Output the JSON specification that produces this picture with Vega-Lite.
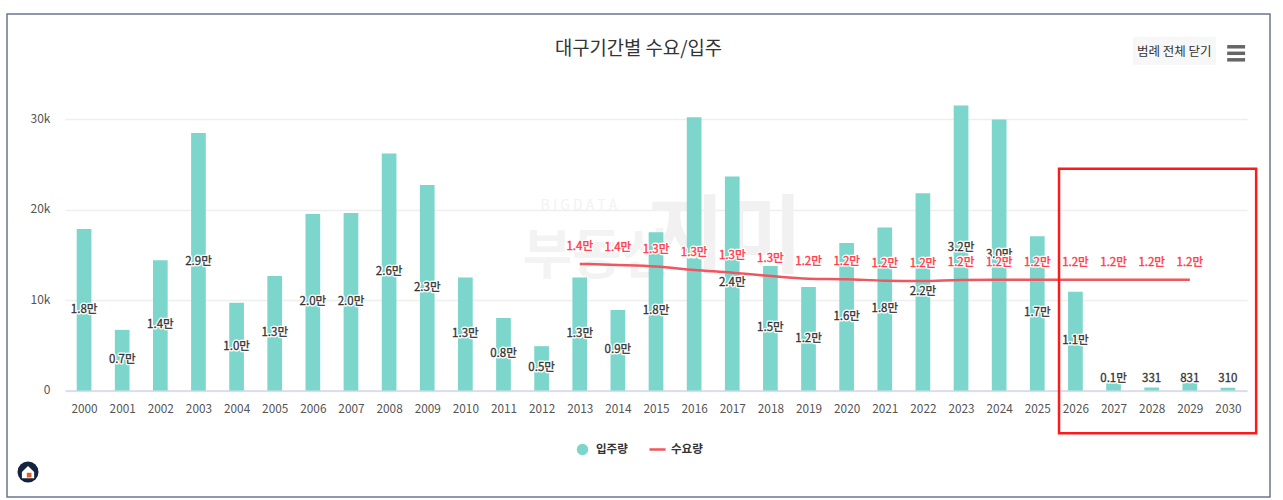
{
  "$schema": "https://vega.github.io/schema/vega-lite/v6.json",
  "autosize": {"type": "none"},
  "padding": {"left": 7, "top": 14, "right": 13, "bottom": 3},
  "width": 1263,
  "height": 483,
  "background": "white",
  "view": {"stroke": "#6b7590", "strokeWidth": 1.5, "fill": "white"},
  "title": {
    "text": "대구기간별 수요/입주",
    "font": "Noto Sans CJK KR",
    "fontSize": 18.8,
    "fontWeight": "normal",
    "color": "#333333",
    "anchor": "middle",
    "offset": -45
  },
  "config": {
    "font": "Noto Sans CJK KR",
    "axis": {"labelFont": "Noto Sans CJK KR"},
    "legend": {"labelFont": "Noto Sans CJK KR"}
  },
  "layer": [
    {
      "data": {"values": [{}]},
      "mark": {"type": "text", "text": "B I G D A T A", "fontSize": 14, "baseline": "middle", "color": "#f2f2f2"},
      "encoding": {"x": {"datum": 2012.98}, "y": {"datum": 20400}}
    },
    {
      "data": {"values": [{}]},
      "mark": {"type": "text", "text": "부동산", "fontSize": 54, "fontWeight": "bold", "baseline": "middle", "color": "#f3f3f3"},
      "encoding": {"x": {"datum": 2013.45}, "y": {"datum": 14650}}
    },
    {
      "data": {"values": [{}]},
      "mark": {"type": "text", "text": "지미", "fontSize": 85, "fontWeight": "bold", "baseline": "middle", "color": "#f1f1f1"},
      "encoding": {"x": {"datum": 2016.8}, "y": {"datum": 16640}}
    },
    {
      "data": {
        "values": [
          {"year": 2000, "supply": 17850, "supply_label": "1.8만"},
          {"year": 2001, "supply": 6700, "supply_label": "0.7만"},
          {"year": 2002, "supply": 14400, "supply_label": "1.4만"},
          {"year": 2003, "supply": 28450, "supply_label": "2.9만"},
          {"year": 2004, "supply": 9700, "supply_label": "1.0만"},
          {"year": 2005, "supply": 12650, "supply_label": "1.3만"},
          {"year": 2006, "supply": 19500, "supply_label": "2.0만"},
          {"year": 2007, "supply": 19600, "supply_label": "2.0만"},
          {"year": 2008, "supply": 26200, "supply_label": "2.6만"},
          {"year": 2009, "supply": 22700, "supply_label": "2.3만"},
          {"year": 2010, "supply": 12500, "supply_label": "1.3만"},
          {"year": 2011, "supply": 8000, "supply_label": "0.8만"},
          {"year": 2012, "supply": 4900, "supply_label": "0.5만"},
          {"year": 2013, "supply": 12500, "supply_label": "1.3만", "demand": 13990, "demand_label": "1.4만"},
          {"year": 2014, "supply": 8900, "supply_label": "0.9만", "demand": 13870, "demand_label": "1.4만"},
          {"year": 2015, "supply": 17500, "supply_label": "1.8만", "demand": 13700, "demand_label": "1.3만"},
          {"year": 2016, "supply": 30200, "supply_label": "3.0만", "demand": 13320, "demand_label": "1.3만"},
          {"year": 2017, "supply": 23650, "supply_label": "2.4만", "demand": 13020, "demand_label": "1.3만"},
          {"year": 2018, "supply": 13750, "supply_label": "1.5만", "demand": 12650, "demand_label": "1.3만"},
          {"year": 2019, "supply": 11450, "supply_label": "1.2만", "demand": 12360, "demand_label": "1.2만"},
          {"year": 2020, "supply": 16300, "supply_label": "1.6만", "demand": 12300, "demand_label": "1.2만"},
          {"year": 2021, "supply": 18000, "supply_label": "1.8만", "demand": 12140, "demand_label": "1.2만"},
          {"year": 2022, "supply": 21800, "supply_label": "2.2만", "demand": 12100, "demand_label": "1.2만"},
          {"year": 2023, "supply": 31500, "supply_label": "3.2만", "demand": 12220, "demand_label": "1.2만"},
          {"year": 2024, "supply": 29950, "supply_label": "3.0만", "demand": 12240, "demand_label": "1.2만"},
          {"year": 2025, "supply": 17050, "supply_label": "1.7만", "demand": 12240, "demand_label": "1.2만"},
          {"year": 2026, "supply": 10900, "supply_label": "1.1만", "demand": 12240, "demand_label": "1.2만"},
          {"year": 2027, "supply": 800, "supply_label": "0.1만", "demand": 12240, "demand_label": "1.2만"},
          {"year": 2028, "supply": 331, "supply_label": "331", "demand": 12240, "demand_label": "1.2만"},
          {"year": 2029, "supply": 831, "supply_label": "831", "demand": 12240, "demand_label": "1.2만"},
          {"year": 2030, "supply": 310, "supply_label": "310"}
        ]
      },
      "transform": [{"calculate": "max(datum.supply / 2, 1250)", "as": "supply_mid"}],
      "encoding": {
        "x": {
          "field": "year",
          "type": "quantitative",
          "title": null,
          "scale": {"domain": [1999.5, 2030.5], "range": [58, 1240], "nice": false, "zero": false, "padding": 0},
          "axis": {
            "values": [2000, 2001, 2002, 2003, 2004, 2005, 2006, 2007, 2008, 2009, 2010, 2011, 2012, 2013, 2014, 2015, 2016, 2017, 2018, 2019, 2020, 2021, 2022, 2023, 2024, 2025, 2026, 2027, 2028, 2029, 2030],
            "format": "d",
            "offset": -106.5,
            "grid": false,
            "ticks": false,
            "domainColor": "#d5d9e8",
            "domainWidth": 1.5,
            "labelColor": "#555555",
            "labelFontSize": 11.8,
            "labelPadding": 13,
            "labelOverlap": false,
            "labelFlush": false
          }
        },
        "y": {
          "type": "quantitative",
          "title": null,
          "scale": {"domain": [0, 30000], "range": [376.5, 105], "nice": false},
          "axis": {
            "values": [0, 10000, 20000, 30000],
            "format": "~s",
            "labelExpr": "datum.value == 0 ? '0' : datum.label",
            "offset": -43,
            "grid": true,
            "gridColor": "#eeeeee",
            "gridWidth": 1.5,
            "domain": false,
            "ticks": false,
            "labelColor": "#555555",
            "labelFontSize": 12,
            "labelPadding": 0,
            "labelOffset": -1
          }
        }
      },
      "layer": [
        {
          "mark": {"type": "bar", "width": 14.7},
          "encoding": {
            "y": {"field": "supply"},
            "fill": {
              "datum": "입주량",
              "scale": {"domain": ["입주량"], "range": ["#7dd6cc"]},
              "legend": {
                "title": null,
                "orient": "none",
                "legendX": 569,
                "legendY": 429,
                "symbolType": "circle",
                "symbolSize": 130,
                "labelOffset": 7,
                "labelFontSize": 11.5,
                "labelFontWeight": "bold",
                "labelColor": "#333333"
              }
            }
          }
        },
        {
          "transform": [{"filter": "datum.demand != null"}],
          "mark": {"type": "line", "interpolate": "monotone", "strokeWidth": 2.5},
          "encoding": {
            "y": {"field": "demand"},
            "stroke": {
              "datum": "수요량",
              "scale": {"domain": ["수요량"], "range": ["#f0565f"]},
              "legend": {
                "title": null,
                "orient": "none",
                "legendX": 641,
                "legendY": 426,
                "symbolType": "stroke",
                "symbolSize": 260,
                "symbolStrokeWidth": 2.5,
                "labelFontSize": 11.5,
                "labelFontWeight": "bold",
                "labelColor": "#333333"
              }
            }
          }
        },
        {
          "mark": {"type": "text", "fontSize": 11.5, "stroke": "white", "strokeWidth": 3, "strokeJoin": "round", "color": "white"},
          "encoding": {"y": {"field": "supply_mid"}, "text": {"field": "supply_label"}}
        },
        {
          "mark": {"type": "text", "fontSize": 11.5, "color": "#333333", "stroke": "#333333", "strokeWidth": 0.3},
          "encoding": {"y": {"field": "supply_mid"}, "text": {"field": "supply_label"}}
        },
        {
          "transform": [{"filter": "datum.demand != null"}],
          "mark": {"type": "text", "fontSize": 11.5, "dy": -17, "stroke": "white", "strokeWidth": 3, "strokeJoin": "round", "color": "white"},
          "encoding": {"y": {"field": "demand"}, "text": {"field": "demand_label"}}
        },
        {
          "transform": [{"filter": "datum.demand != null"}],
          "mark": {"type": "text", "fontSize": 11.5, "dy": -17, "color": "#ff3b4a", "stroke": "#ff3b4a", "strokeWidth": 0.4},
          "encoding": {"y": {"field": "demand"}, "text": {"field": "demand_label"}}
        }
      ]
    },
    {
      "data": {"values": [{}]},
      "mark": {"type": "rect", "fill": null, "stroke": "#ff1a1a", "strokeWidth": 2.5},
      "encoding": {
        "x": {"datum": 2025.57},
        "x2": {"datum": 2030.74},
        "y": {"datum": 24490},
        "y2": {"datum": -4710}
      }
    },
    {
      "data": {"values": [{}]},
      "mark": {"type": "rect", "fill": "#f7f7f7"},
      "encoding": {
        "x": {"datum": 2027.51},
        "x2": {"datum": 2029.69},
        "y": {"datum": 39080},
        "y2": {"datum": 35990}
      }
    },
    {
      "data": {"values": [{}]},
      "mark": {"type": "text", "text": "범례 전체 닫기", "fontSize": 12.5, "baseline": "middle", "color": "#333333"},
      "encoding": {"x": {"datum": 2028.59}, "y": {"datum": 37370}}
    },
    {
      "data": {"values": [{"bar": 37980}, {"bar": 37260}, {"bar": 36540}]},
      "mark": {"type": "rule", "color": "#666666", "strokeWidth": 3.5},
      "encoding": {
        "x": {"datum": 2029.98},
        "x2": {"datum": 2030.45},
        "y": {"field": "bar", "type": "quantitative"}
      }
    },
    {
      "data": {"values": [{}]},
      "mark": {"type": "point", "shape": "circle", "filled": true, "size": 440, "color": "#14233f", "opacity": 1},
      "encoding": {"x": {"datum": 1998.53}, "y": {"datum": -9010}}
    },
    {
      "data": {"values": [{}]},
      "mark": {"type": "point", "shape": "M-1,0L0,-1L1,0L1,1L-1,1Z", "filled": true, "size": 150, "color": "white", "opacity": 1},
      "encoding": {"x": {"datum": 1998.53}, "y": {"datum": -9010}}
    },
    {
      "data": {"values": [{}]},
      "mark": {"type": "point", "shape": "square", "filled": true, "size": 22, "color": "#d9622b", "opacity": 1},
      "encoding": {"x": {"datum": 1998.56}, "y": {"datum": -9350}}
    }
  ]
}
